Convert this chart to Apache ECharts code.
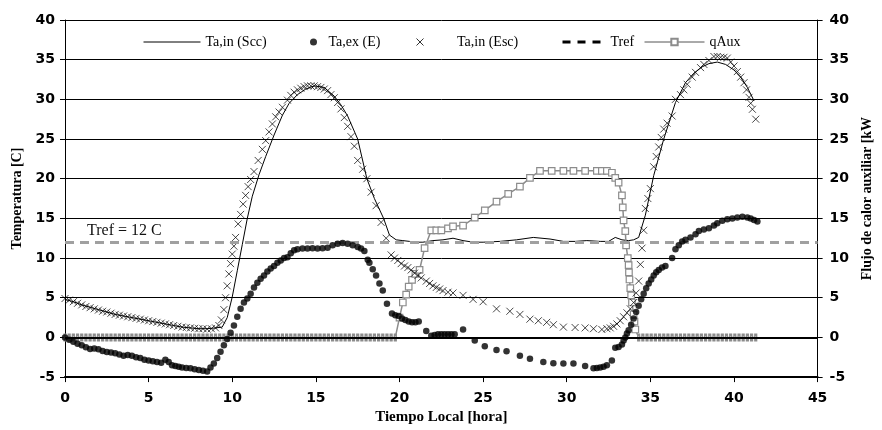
<!DOCTYPE html>
<html>
<head>
<meta charset="utf-8">
<script src="https://cdn.jsdelivr.net/npm/echarts@6/dist/echarts.min.js"></script>
<style>html,body{margin:0;padding:0;background:#fff}#c{width:882px;height:430px}</style>
</head>
<body>
<div id="c"></div>
<script>
// ---- data ----
const xTicks = [0,5,10,15,20,25,30,35,40,45];
const yTicks = [-5,0,5,10,15,20,25,30,35,40];
const TREF = 12;

// Ta,in (Scc) : solid thin line  [hour, °C]
const taInScc = [[0,4.8],[0.5,4.5],[1,4.1],[1.5,3.8],[2,3.5],[2.5,3.2],[3,2.9],[3.5,2.7],[4,2.5],[4.5,2.3],[5,2.1],[5.5,1.9],[6,1.7],[6.5,1.5],[7,1.3],[7.5,1.2],[8,1.1],[8.5,1.1],[9,1.2],[9.4,1.3],[9.7,2.5],[10,5.1],[10.3,8.4],[10.6,11.7],[10.9,15],[11.2,17.8],[11.6,20.5],[12,22.8],[12.5,25.5],[13,28],[13.4,29.5],[13.9,30.6],[14.4,31.3],[14.9,31.7],[15.5,31.5],[16.1,30.4],[16.5,29.3],[16.9,27.9],[17.5,25],[18.05,20],[18.5,17.5],[19.05,15],[19.4,12.9],[19.8,12.3],[20.2,12.2],[20.6,12.1],[21,12.0],[21.4,12.0],[22,12.2],[22.6,12.3],[23.2,12.5],[23.8,12.2],[24.4,12.0],[25,12.0],[26,12.1],[27,12.3],[28,12.6],[29,12.4],[29.8,12.1],[30.5,12.1],[31.2,12.2],[32,12.1],[32.5,12.1],[32.9,12.6],[33.3,12.3],[33.7,12.2],[34,12.3],[34.3,12.6],[34.7,15.4],[35.2,20.4],[35.8,25],[36.5,29.6],[37.1,32.1],[37.6,33.3],[38.1,34.1],[38.5,34.5],[39,34.7],[39.5,34.4],[40,33.7],[40.4,32.8],[40.8,31.5],[41.2,29.8]];

// Ta,ex (E) : black dots
const taExE = [[0,0],[0.25,-0.3],[0.5,-0.55],[0.75,-0.8],[1,-1.0],[1.25,-1.25],[1.5,-1.45],[1.75,-1.4],[2,-1.5],[2.25,-1.7],[2.5,-1.85],[2.75,-1.9],[3,-2.0],[3.25,-2.15],[3.5,-2.3],[3.75,-2.2],[4,-2.3],[4.25,-2.5],[4.5,-2.6],[4.75,-2.8],[5,-2.9],[5.25,-3.0],[5.5,-3.1],[5.75,-3.2],[6,-2.8],[6.2,-3.1],[6.4,-3.5],[6.6,-3.6],[6.8,-3.7],[7,-3.8],[7.25,-3.85],[7.5,-3.9],[7.75,-4.0],[8,-4.1],[8.25,-4.2],[8.5,-4.3],[8.7,-3.8],[8.9,-3.3],[9.1,-2.6],[9.3,-1.8],[9.5,-1.0],[9.7,-0.2],[9.9,0.6],[10.1,1.5],[10.3,2.6],[10.5,3.6],[10.7,4.4],[10.9,4.9],[11.1,5.5],[11.3,6.3],[11.5,6.9],[11.7,7.4],[11.9,7.8],[12.1,8.3],[12.3,8.7],[12.5,9.0],[12.7,9.4],[12.9,9.7],[13.1,10.0],[13.3,10.1],[13.5,10.6],[13.7,11.0],[13.9,11.1],[14.2,11.2],[14.5,11.2],[14.8,11.25],[15.1,11.2],[15.4,11.25],[15.7,11.3],[16,11.6],[16.3,11.8],[16.6,11.9],[16.9,11.8],[17.2,11.6],[17.5,11.4],[17.7,11.2],[17.9,10.9],[18.1,9.8],[18.2,9.4],[18.4,8.6],[18.6,7.8],[18.8,6.8],[19,5.9],[19.25,4.25],[19.55,3.0],[19.75,2.8],[19.95,2.7],[20.15,2.4],[20.35,2.2],[20.55,2.0],[20.75,1.9],[20.95,1.9],[21.15,2.0],[21.6,0.8],[21.9,0.2],[22.1,0.3],[22.3,0.4],[22.5,0.4],[22.7,0.4],[22.9,0.4],[23.1,0.4],[23.3,0.4],[23.8,1.0],[24.5,-0.4],[25.1,-1.1],[25.8,-1.6],[26.4,-1.75],[27.2,-2.3],[27.8,-2.7],[28.6,-3.1],[29.2,-3.25],[29.8,-3.3],[30.4,-3.3],[31.1,-3.6],[31.6,-3.9],[31.8,-3.85],[32,-3.8],[32.2,-3.7],[32.4,-3.5],[32.7,-2.9],[32.9,-1.3],[33.1,-1.2],[33.3,-0.9],[33.4,-0.4],[33.5,0.0],[33.6,0.5],[33.7,0.9],[33.85,1.6],[34,2.4],[34.15,3.2],[34.3,4.0],[34.45,4.8],[34.6,5.5],[34.75,6.2],[34.9,6.8],[35.05,7.3],[35.2,7.8],[35.35,8.2],[35.5,8.5],[35.7,8.8],[35.9,9.0],[36.3,10.0],[36.5,11.1],[36.7,11.6],[36.9,12.1],[37.1,12.3],[37.4,12.6],[37.7,13.0],[37.9,13.4],[38.2,13.6],[38.5,13.75],[38.8,14.1],[39,14.4],[39.3,14.7],[39.6,14.9],[39.9,15.0],[40.2,15.1],[40.5,15.2],[40.8,15.1],[41,15.0],[41.2,14.8],[41.4,14.6]];

// Ta,in (Esc) : x markers
const taInEsc = [[0,4.9],[0.25,4.7],[0.5,4.5],[0.75,4.3],[1,4.1],[1.25,3.9],[1.5,3.75],[1.75,3.6],[2,3.45],[2.25,3.3],[2.5,3.2],[2.75,3.05],[3,2.9],[3.25,2.8],[3.5,2.7],[3.75,2.6],[4,2.5],[4.25,2.4],[4.5,2.3],[4.75,2.2],[5,2.1],[5.25,2.0],[5.5,1.9],[5.75,1.8],[6,1.7],[6.25,1.6],[6.5,1.5],[6.75,1.4],[7,1.3],[7.25,1.25],[7.5,1.2],[7.75,1.15],[8,1.1],[8.25,1.1],[8.5,1.05],[8.75,1.1],[9,1.2],[9.2,1.5],[9.35,2.2],[9.5,3.5],[9.6,5.0],[9.7,6.5],[9.8,8.0],[9.9,9.3],[10,10.5],[10.1,11.5],[10.2,12.6],[10.35,14.3],[10.5,15.5],[10.65,16.8],[10.8,17.9],[10.95,19.0],[11.1,19.9],[11.3,20.9],[11.55,22.3],[11.8,23.7],[12,24.8],[12.2,25.9],[12.4,26.9],[12.6,27.8],[12.8,28.4],[13,29.0],[13.3,29.9],[13.5,30.5],[13.7,30.9],[13.9,31.2],[14.1,31.4],[14.3,31.6],[14.5,31.7],[14.7,31.7],[14.9,31.7],[15.1,31.6],[15.3,31.5],[15.5,31.3],[15.7,31.1],[15.9,30.6],[16.1,30.2],[16.3,29.6],[16.5,28.8],[16.7,27.7],[16.9,26.6],[17.1,25.3],[17.3,24.1],[17.5,22.3],[17.8,21.2],[18.05,20.0],[18.3,18.3],[18.6,16.6],[18.9,14.5],[19.2,12.5],[19.5,10.4],[19.7,10.0],[19.9,9.7],[20.1,9.3],[20.3,9.0],[20.5,8.8],[20.7,8.5],[20.9,8.1],[21.1,7.8],[21.3,7.5],[21.6,7.1],[21.8,6.8],[22,6.5],[22.2,6.3],[22.4,6.1],[22.6,5.9],[22.9,5.7],[23.2,5.6],[23.8,5.3],[24.4,4.8],[25,4.5],[25.8,3.6],[26.6,3.3],[27.2,2.9],[27.8,2.3],[28.3,2.1],[28.8,1.9],[29.2,1.6],[29.8,1.3],[30.5,1.25],[31.1,1.2],[31.6,1.1],[32.1,1.0],[32.4,1.1],[32.6,1.2],[32.8,1.4],[33,1.7],[33.2,2.1],[33.4,2.6],[33.6,3.1],[33.8,3.6],[34,4.4],[34.15,5.6],[34.3,7.1],[34.4,9.2],[34.5,11.25],[34.6,13.5],[34.7,16.25],[34.85,17.5],[35,18.75],[35.2,21.5],[35.35,22.8],[35.5,24.0],[35.65,25.2],[35.8,26.25],[36,27.0],[36.3,27.9],[36.5,30.0],[36.8,30.6],[37,31.2],[37.2,31.9],[37.5,32.8],[37.7,33.4],[38,34.0],[38.2,34.4],[38.5,34.9],[38.8,35.4],[39,35.4],[39.2,35.3],[39.4,35.3],[39.6,35.2],[39.8,34.7],[40,34.2],[40.2,33.5],[40.4,32.8],[40.6,32.1],[40.75,31.2],[40.9,30.25],[41,29.5],[41.1,28.75],[41.3,27.5]];

// qAux : auxiliary heat flow [kW], right axis
const qAux = [[0,0],[0.25,0],[0.5,0],[0.75,0],[1,0],[1.25,0],[1.5,0],[1.75,0],[2,0],[2.25,0],[2.5,0],[2.75,0],[3,0],[3.25,0],[3.5,0],[3.75,0],[4,0],[4.25,0],[4.5,0],[4.75,0],[5,0],[5.25,0],[5.5,0],[5.75,0],[6,0],[6.25,0],[6.5,0],[6.75,0],[7,0],[7.25,0],[7.5,0],[7.75,0],[8,0],[8.25,0],[8.5,0],[8.75,0],[9,0],[9.25,0],[9.5,0],[9.75,0],[10,0],[10.25,0],[10.5,0],[10.75,0],[11,0],[11.25,0],[11.5,0],[11.75,0],[12,0],[12.25,0],[12.5,0],[12.75,0],[13,0],[13.25,0],[13.5,0],[13.75,0],[14,0],[14.25,0],[14.5,0],[14.75,0],[15,0],[15.25,0],[15.5,0],[15.75,0],[16,0],[16.25,0],[16.5,0],[16.75,0],[17,0],[17.25,0],[17.5,0],[17.75,0],[18,0],[18.25,0],[18.5,0],[18.75,0],[19,0],[19.25,0],[19.5,0],[19.75,0],[20,2.5],[20.2,4.4],[20.4,5.4],[20.55,6.4],[20.75,7.25],[20.95,8.0],[21.2,8.5],[21.5,11.25],[21.9,13.5],[22.2,13.5],[22.5,13.5],[22.9,13.75],[23.2,14.0],[23.8,14.1],[24.5,15.1],[25.1,16.0],[25.8,17.1],[26.5,18.1],[27.2,19.0],[27.8,20.1],[28.4,21.0],[29.1,21.0],[29.8,21.0],[30.4,21.0],[31.1,21.0],[31.8,21.0],[32.1,21.0],[32.4,21.0],[32.7,20.75],[32.9,20.1],[33.1,19.5],[33.3,17.9],[33.35,16.4],[33.4,14.75],[33.5,13.4],[33.55,11.6],[33.65,10.0],[33.7,9.1],[33.72,8.2],[33.75,7.3],[33.8,6.2],[33.85,5.3],[33.9,4.4],[34,2.9],[34.05,2.0],[34.1,1.0],[34.3,0],[34.55,0],[34.8,0],[35.05,0],[35.3,0],[35.55,0],[35.8,0],[36.05,0],[36.3,0],[36.55,0],[36.8,0],[37.05,0],[37.3,0],[37.55,0],[37.8,0],[38.05,0],[38.3,0],[38.55,0],[38.8,0],[39.05,0],[39.3,0],[39.55,0],[39.8,0],[40.05,0],[40.3,0],[40.55,0],[40.8,0],[41.05,0],[41.3,0]];

// ---- chart ----
const chart = echarts.init(document.getElementById('c'), null, {renderer: 'canvas'});
const serif = 'Liberation Serif';
const sans = 'DejaVu Sans';
const XPATH = 'path://M0,0L7,7M7,0L0,7';
const grayQ = '#8c8c8c';
const noSym = {color: 'rgba(0,0,0,0)', borderColor: 'rgba(0,0,0,0)', borderWidth: 0};

function legendAt(left, itemWidth, itemHeight, item) {
  return {
    left: left, top: 35, itemWidth: itemWidth, itemHeight: itemHeight,
    selectedMode: false, padding: 0,
    textStyle: {fontFamily: serif, fontSize: 14, color: '#000'},
    data: [item]
  };
}

const yAxisBase = {
  type: 'value', min: yTicks[0], max: yTicks[yTicks.length - 1], interval: 5,
  axisLine: {show: true, lineStyle: {color: '#000', width: 1}},
  axisTick: {show: true, inside: false, length: 5, lineStyle: {color: '#000'}},
  axisLabel: {fontFamily: sans, fontWeight: 'bold', fontSize: 14, color: '#000'},
  nameLocation: 'middle', nameRotate: 90,
  nameTextStyle: {fontFamily: serif, fontWeight: 'bold', fontSize: 14, color: '#000'}
};

chart.setOption({
  animation: false,
  backgroundColor: '#fff',
  grid: {left: 65, right: 56, top: 20, bottom: 50, containLabel: false},
  legend: [
    legendAt(143, 57, 8, {name: 'Ta,in (Scc)', itemStyle: noSym, lineStyle: {color: '#000', width: 1}}),
    legendAt(310, 20, 7, {name: 'Ta,ex (E)', icon: 'circle'}),
    legendAt(416, 64, 7, {name: 'Ta,in (Esc)', icon: XPATH, itemStyle: {color: 'rgba(0,0,0,0)', borderColor: '#000', borderWidth: 1}}),
    legendAt(561, 43, 8, {name: 'Tref', itemStyle: noSym, lineStyle: {color: '#000', type: [8, 7], width: 3}}),
    legendAt(644, 60, 8, {name: 'qAux', lineStyle: {color: '#555', width: 1}})
  ],
  xAxis: {
    type: 'value', min: xTicks[0], max: xTicks[xTicks.length - 1], interval: 5,
    name: 'Tiempo Local [hora]', nameLocation: 'middle', nameGap: 31,
    nameTextStyle: {fontFamily: serif, fontWeight: 'bold', fontSize: 15, color: '#000'},
    axisLine: {show: true, onZero: false, lineStyle: {color: '#000', width: 2}},
    axisTick: {show: true, length: 5, lineStyle: {color: '#000', width: 1}},
    axisLabel: {fontFamily: sans, fontWeight: 'bold', fontSize: 14, color: '#000', margin: 14},
    splitLine: {show: false}
  },
  yAxis: [
    Object.assign({}, yAxisBase, {
      position: 'left', name: 'Temperatura [C]', nameGap: 39,
      axisLabel: Object.assign({}, yAxisBase.axisLabel, {margin: 10}),
      splitLine: {show: true, lineStyle: {color: '#000', width: 1}}
    }),
    Object.assign({}, yAxisBase, {
      position: 'right', name: 'Flujo de calor auxiliar [kW', nameGap: 38,
      axisLabel: Object.assign({}, yAxisBase.axisLabel, {margin: 12}),
      splitLine: {show: false}
    })
  ],
  series: [
    {
      name: 'Tref', type: 'line', data: [], z: 1,
      symbol: 'none', itemStyle: {color: '#000'},
      lineStyle: {color: '#000', type: [8, 7], width: 3},
      markLine: {
        silent: true, symbol: 'none',
        lineStyle: {color: '#a0a0a0', type: [9, 6], width: 3},
        label: {show: true, position: 'insideStartTop', distance: [22, 3], formatter: 'Tref = 12 C',
                fontFamily: serif, fontSize: 16, color: '#111'},
        data: [{yAxis: TREF}]
      }
    },
    {
      name: 'Ta,in (Scc)', type: 'line', data: taInScc, z: 2,
      showSymbol: false, symbol: 'none', itemStyle: {color: '#000'},
      lineStyle: {color: '#000', width: 1},
      markLine: {
        silent: true, symbol: 'none', label: {show: false},
        lineStyle: {color: '#000', type: 'solid', width: 2},
        data: [{yAxis: 0}]
      }
    },
    {
      name: 'qAux', type: 'line', yAxisIndex: 1, data: qAux, z: 3,
      symbol: 'rect',
      symbolSize: function (v) { return v[1] === 0 ? [2, 5] : 6.5; },
      itemStyle: {color: '#fff', borderColor: grayQ, borderWidth: 1.2},
      lineStyle: {color: grayQ, width: 1.5}
    },
    {
      name: 'Ta,in (Esc)', type: 'scatter', data: taInEsc, z: 4,
      symbol: XPATH, symbolSize: 7,
      itemStyle: {color: 'rgba(0,0,0,0)', borderColor: '#000', borderWidth: 0.9}
    },
    {
      name: 'Ta,ex (E)', type: 'scatter', data: taExE, z: 5,
      symbol: 'circle', symbolSize: 6.5,
      itemStyle: {color: '#000'}
    }
  ]
});
</script>
</body>
</html>
